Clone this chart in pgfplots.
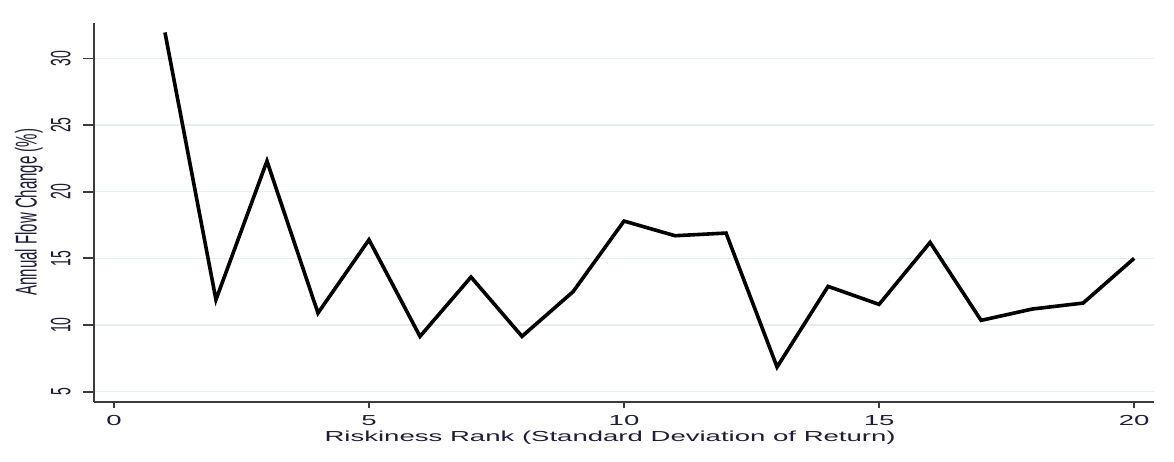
\documentclass[border=0pt]{standalone}
\usepackage{fontspec}
\setmainfont{Liberation Sans}
\newfontfamily\xfont[FakeStretch=1.9]{Liberation Sans}
\newfontfamily\yfont[FakeStretch=0.5]{Liberation Sans}
\usepackage{pgfplots}
\pgfplotsset{compat=1.18}
\definecolor{txt}{RGB}{30,30,60}
\definecolor{gridc}{RGB}{230,239,240}
\definecolor{axc}{RGB}{60,60,60}
\begin{document}
\begin{tikzpicture}
\path[use as bounding box] (0,0) rectangle (1174pt,461pt);
\begin{axis}[
  at={(94.3pt,59.3pt)}, anchor=south west,
  scale only axis, width=1059.2pt, height=379pt,
  xmin=-0.385, xmax=20.38, ymin=4.25, ymax=32.68,
  axis lines*=left,
  axis line style={axc, line width=2pt},
  xtick={0,5,10,15,20}, ytick={5,10,15,20,25,30},
  tick align=outside,
  major tick length=11pt,
  tick style={axc, line width=1.8pt},
  xtick style={/pgfplots/major tick length=6pt},
  ymajorgrids, grid style={gridc, line width=1.2pt},
  /pgf/number format/assume math mode=true,
  xticklabel style={font=\xfont\fontsize{14.5}{14.5}\selectfont, text=txt, anchor=base, yshift=-13pt},
  yticklabel style={font=\yfont\fontsize{28}{28}\selectfont, text=txt, rotate=90, anchor=base},
  yticklabel shift=13pt,
  xlabel={Riskiness Rank (Standard Deviation of Return)},
  xlabel style={font=\xfont\fontsize{14.5}{14.5}\selectfont, text=txt, at={(axis description cs:0.487,-0.1063)}, anchor=base},
  ylabel={Annual Flow Change (\%)},
  ylabel style={font=\yfont\fontsize{30}{30}\selectfont, text=txt, at={(axis description cs:-0.0545,0.5)}, anchor=base, rotate=0},
  clip=false,
]
\addplot[black, line width=3.6pt, line join=miter] coordinates {
(1,31.95) (2,11.9) (3,22.3) (4,10.9) (5,16.4) (6,9.15) (7,13.6) (8,9.15) (9,12.5) (10,17.8)
(11,16.7) (12,16.9) (13,6.85) (14,12.9) (15,11.55) (16,16.2) (17,10.35) (18,11.2) (19,11.65) (20,15.0)
};
\end{axis}
\end{tikzpicture}
\end{document}
